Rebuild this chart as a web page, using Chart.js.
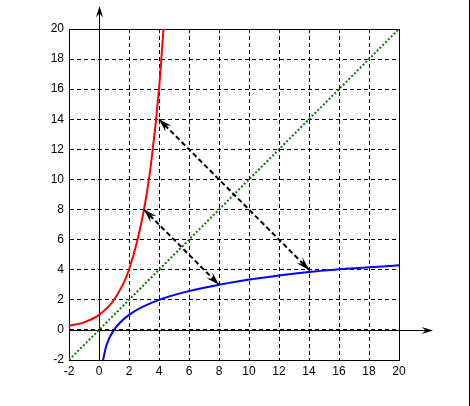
<!DOCTYPE html>
<html>
<head>
<meta charset="utf-8">
<script src="https://cdn.jsdelivr.net/npm/chart.js@4"></script>
<style>
  html, body { margin: 0; padding: 0; background: #fff; }
  #wrap { width: 470px; height: 406px; }
</style>
</head>
<body>
<div id="wrap"><canvas id="chart" width="470" height="406"></canvas></div>
<script>
// values
const expX = [-2, -1, 0, 1, 2, 3, 3.5, 4, 4.3];
const expY = [0.27, 0.5, 1, 2, 4, 8, 11.3, 16, 20];
const logX = [0.27, 0.5, 1, 2, 4, 8, 14, 20];
const logY = [-2, -1, 0, 1, 2, 3, 3.85, 4.3];
const diagX = [-2, 20];
const diagY = [-2, 20];
// double-headed arrows: [x1, y1, x2, y2]
const arrows = [
  [4, 14, 14, 4],
  [3, 8, 8, 3]
];
const axisMin = -2;
const axisMax = 20;
const tickStep = 2;

const toPoints = (xs, ys) => xs.map((x, i) => ({ x: x, y: ys[i] }));

function arrowHead(ctx, x1, y1, x2, y2, len) {
  // head at (x2, y2), pointing away from (x1, y1)
  const a = Math.atan2(y2 - y1, x2 - x1);
  const w = 0.3;
  ctx.beginPath();
  ctx.moveTo(x2, y2);
  ctx.lineTo(x2 - len * Math.cos(a - w), y2 - len * Math.sin(a - w));
  ctx.lineTo(x2 - len * 0.6 * Math.cos(a), y2 - len * 0.6 * Math.sin(a));
  ctx.lineTo(x2 - len * Math.cos(a + w), y2 - len * Math.sin(a + w));
  ctx.closePath();
  ctx.fill();
}

const decor = {
  id: 'decor',
  beforeDatasetsDraw(chart) {
    const { ctx, chartArea: a, scales } = chart;
    const x0 = Math.round(scales.x.getPixelForValue(0)) + 0.5;
    const y0 = Math.round(scales.y.getPixelForValue(0)) + 0.5;
    ctx.save();
    ctx.strokeStyle = '#000';
    ctx.fillStyle = '#000';
    ctx.lineWidth = 1;
    ctx.setLineDash([]);
    // frame
    ctx.strokeRect(Math.round(a.left) + 0.5, Math.round(a.top) + 0.5,
      Math.round(a.right - a.left), Math.round(a.bottom - a.top));
    // axes through the origin with arrows
    ctx.beginPath();
    ctx.moveTo(x0, a.bottom);
    ctx.lineTo(x0, 10);
    ctx.moveTo(a.left, y0);
    ctx.lineTo(429, y0);
    ctx.stroke();
    arrowHead(ctx, x0, 40, x0, 6, 12);
    arrowHead(ctx, 400, y0, 433, y0, 12);
    // right edge line
    ctx.beginPath();
    ctx.moveTo(469.5, 0);
    ctx.lineTo(469.5, 406);
    ctx.stroke();
    ctx.restore();
  },
  afterDatasetsDraw(chart) {
    const { ctx, scales } = chart;
    ctx.save();
    ctx.strokeStyle = '#000';
    ctx.fillStyle = '#000';
    ctx.lineWidth = 2;
    arrows.forEach(r => {
      const px1 = scales.x.getPixelForValue(r[0]);
      const py1 = scales.y.getPixelForValue(r[1]);
      const px2 = scales.x.getPixelForValue(r[2]);
      const py2 = scales.y.getPixelForValue(r[3]);
      ctx.setLineDash([5, 3]);
      ctx.beginPath();
      ctx.moveTo(px1, py1);
      ctx.lineTo(px2, py2);
      ctx.stroke();
      ctx.setLineDash([]);
      arrowHead(ctx, px1, py1, px2, py2, 14);
      arrowHead(ctx, px2, py2, px1, py1, 14);
    });
    ctx.restore();
  }
};

const axisOpts = (isX) => ({
  type: 'linear',
  min: axisMin,
  max: axisMax,
  ticks: {
    stepSize: tickStep,
    color: '#000',
    font: { family: 'Liberation Sans, Arial, sans-serif', size: 12 },
    padding: isX ? 4 : 5
  },
  grid: { color: '#000', lineWidth: 1, drawTicks: false },
  border: { display: true, color: '#000', dash: [4, 3] },
  afterFit(scale) {
    if (isX) scale.height = 46; else scale.width = 69;
  }
});

new Chart(document.getElementById('chart').getContext('2d'), {
  type: 'scatter',
  data: {
    datasets: [
      {
        data: toPoints(diagX, diagY),
        showLine: true,
        borderColor: '#008000',
        borderWidth: 2,
        borderDash: [2, 2],
        pointRadius: 0
      },
      {
        data: toPoints(expX, expY),
        showLine: true,
        borderColor: '#ff0000',
        borderWidth: 2,
        cubicInterpolationMode: 'monotone',
        pointRadius: 0
      },
      {
        data: toPoints(logX, logY),
        showLine: true,
        borderColor: '#0000ff',
        borderWidth: 2,
        cubicInterpolationMode: 'monotone',
        pointRadius: 0
      }
    ]
  },
  options: {
    responsive: false,
    animation: false,
    layout: { padding: { left: 0, top: 29, right: 71, bottom: 0 } },
    plugins: { legend: { display: false }, tooltip: { enabled: false } },
    scales: { x: axisOpts(true), y: axisOpts(false) }
  },
  plugins: [decor]
});
</script>
</body>
</html>
